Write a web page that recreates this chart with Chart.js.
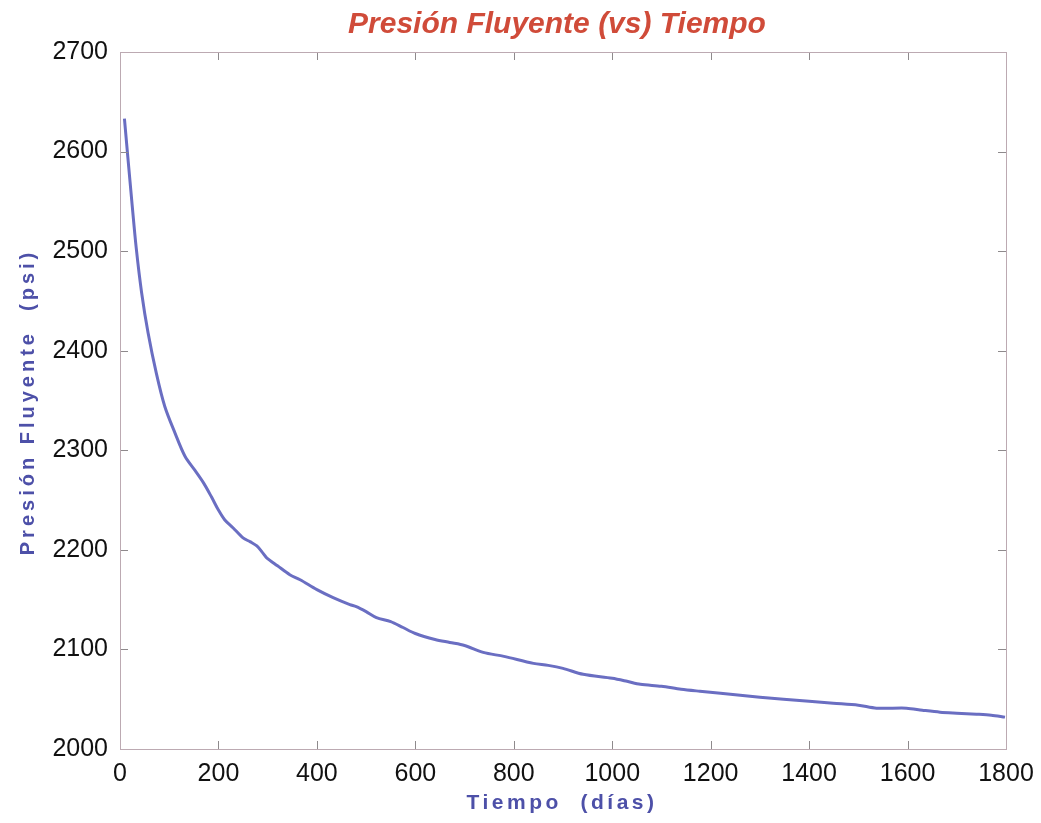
<!DOCTYPE html>
<html>
<head>
<meta charset="utf-8">
<script src="https://cdn.jsdelivr.net/npm/chart.js@4.4.1/dist/chart.umd.min.js"></script>
<style>
html,body{margin:0;padding:0;background:#fff;}
#wrap{width:1041px;height:823px;}
</style>
</head>
<body>
<div id="wrap"><canvas id="c" width="1041" height="823"></canvas></div>
<script>
const chartTitle = "Presión Fluyente (vs) Tiempo";
const xAxisTitle = "Tiempo  (días)";
const yAxisTitle = "Presión Fluyente  (psi)";

const dias = [9, 16, 24, 33, 44, 57, 74, 91, 112, 132, 152, 170, 186, 200, 213, 230, 250, 265, 278, 290, 298, 320, 345, 366, 400, 433, 467, 480, 500, 521, 550, 575, 600, 640, 670, 700, 738, 780, 840, 870, 900, 941, 1000, 1030, 1057, 1100, 1140, 1178, 1220, 1260, 1300, 1348, 1400, 1449, 1500, 1537, 1598, 1630, 1666, 1700, 1740, 1770, 1798];
const presion = [2633, 2594, 2550, 2503, 2458, 2418, 2377, 2344, 2317, 2294, 2280, 2267, 2253, 2240, 2230, 2222, 2212, 2208, 2204, 2197, 2192, 2184, 2175, 2170, 2160, 2152, 2145, 2143, 2138, 2132, 2128, 2122, 2116, 2110, 2107, 2104, 2097, 2093, 2086, 2084, 2081, 2075, 2071, 2068, 2065, 2063, 2060, 2058, 2056, 2054, 2052, 2050, 2048, 2046, 2044, 2041, 2041, 2039, 2037, 2036, 2035, 2034, 2032];

const xMin = 0, xMax = 1800, xStep = 200;
const yMin = 2000, yMax = 2700, yStep = 100;

const points = dias.map((d, i) => ({x: d, y: presion[i]}));

const decor = {
  id: 'decor',
  afterDatasetsDraw(chart) {
    const {ctx, chartArea: a, scales: {x, y}} = chart;
    ctx.save();
    ctx.strokeStyle = '#8e8a8c';
    ctx.lineWidth = 1;
    const tl = 8;
    ctx.beginPath();
    x.ticks.forEach(t => {
      const px = Math.round(x.getPixelForValue(t.value)) + 0.5;
      ctx.moveTo(px, a.bottom); ctx.lineTo(px, a.bottom - tl);
      ctx.moveTo(px, a.top); ctx.lineTo(px, a.top + tl);
    });
    y.ticks.forEach(t => {
      const py = Math.round(y.getPixelForValue(t.value)) + 0.5;
      ctx.moveTo(a.left, py); ctx.lineTo(a.left + tl, py);
      ctx.moveTo(a.right, py); ctx.lineTo(a.right - tl, py);
    });
    ctx.stroke();
    ctx.strokeStyle = '#bcaab2';
    ctx.strokeRect(Math.round(a.left) + 0.5, Math.round(a.top) + 0.5, Math.round(a.width), Math.round(a.height));

    // chart title
    ctx.fillStyle = '#d04b39';
    ctx.font = 'bold italic 30px "Liberation Sans", Arial, sans-serif';
    ctx.textAlign = 'center';
    ctx.textBaseline = 'alphabetic';
    ctx.fillText(chartTitle, 557, 33);

    // axis titles
    ctx.textBaseline = 'middle';
    ctx.fillStyle = '#4d50a8';
    ctx.font = 'bold 21px "Liberation Sans", Arial, sans-serif';
    ctx.letterSpacing = '3.5px';
    ctx.fillText(xAxisTitle, 562, 803);
    ctx.font = 'bold 20px "Liberation Sans", Arial, sans-serif';
    ctx.letterSpacing = '4px';
    ctx.translate(28, 402);
    ctx.rotate(-Math.PI / 2);
    ctx.fillText(yAxisTitle, 0, 0);
    ctx.restore();
  }
};

new Chart(document.getElementById('c'), {
  type: 'line',
  data: {
    datasets: [{
      data: points,
      borderColor: '#6a6ec2',
      borderWidth: 3,
      pointRadius: 0,
      tension: 0.3,
      fill: false
    }]
  },
  options: {
    responsive: false,
    animation: false,
    layout: {padding: {top: 52, right: 35, left: 0, bottom: 0}},
    plugins: {legend: {display: false}, title: {display: false}, tooltip: {enabled: false}},
    scales: {
      x: {
        type: 'linear', min: xMin, max: xMax,
        ticks: {stepSize: xStep, color: '#111', font: {size: 25, family: '"Liberation Sans", Arial, sans-serif'}, padding: 10, maxRotation: 0,
          callback: v => String(v)},
        grid: {display: false, drawTicks: false},
        border: {display: false},
        afterFit(s) { s.height = 74; s.paddingLeft = 0; s.paddingRight = 0; }
      },
      y: {
        type: 'linear', min: yMin, max: yMax,
        ticks: {stepSize: yStep, color: '#111', font: {size: 25, family: '"Liberation Sans", Arial, sans-serif'}, padding: 12,
          callback: v => String(v)},
        grid: {display: false, drawTicks: false},
        border: {display: false},
        afterFit(s) { s.width = 120; s.paddingTop = 0; s.paddingBottom = 0; }
      }
    }
  },
  plugins: [decor]
});
</script>
</body>
</html>
